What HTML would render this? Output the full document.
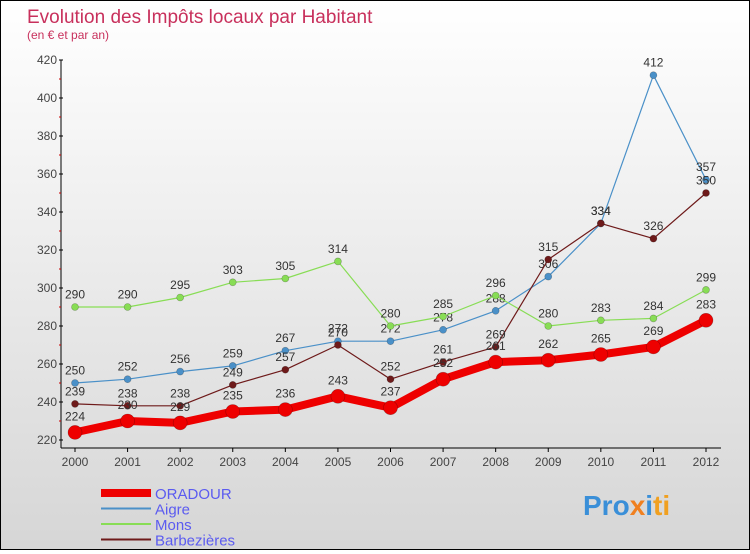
<!DOCTYPE html>
<html><head><meta charset="utf-8"><style>
html,body{margin:0;padding:0}
body{width:750px;height:550px;overflow:hidden;font-family:"Liberation Sans",sans-serif}
#wrap{position:relative;width:748px;height:548px;border:1px solid #000;background:linear-gradient(#ffffff,#d6d6d6)}
</style></head><body>
<div id="wrap">
<svg id="chart" width="748" height="548" xmlns="http://www.w3.org/2000/svg">
<text x="26" y="22" font-size="19" fill="#c8305c">Evolution des Impôts locaux par Habitant</text>
<text x="26" y="38" font-size="12" fill="#c8305c">(en € et par an)</text>
<g id="axes"></g><g id="series"></g><g id="legend"></g>
<text x="582" y="514" font-size="28" font-weight="bold" fill="#3a8fd8">Pro<tspan fill="#f08020">x</tspan><tspan fill="#3a8fd8">i</tspan><tspan fill="#f0a020">ti</tspan></text>
</svg></div>
<script>
const years=[2000,2001,2002,2003,2004,2005,2006,2007,2008,2009,2010,2011,2012];
const oradour=[224,230,229,235,236,243,237,252,261,262,265,269,283];
const aigre=[250,252,256,259,267,272,272,278,288,306,334,412,357];
const mons=[290,290,295,303,305,314,280,285,296,280,283,284,299];
const barbezieres=[239,238,238,249,257,270,252,261,269,315,334,326,350];
const yTicks=[220,240,260,280,300,320,340,360,380,400,420];
const NS="http://www.w3.org/2000/svg";
const x=i=>74+i*(705-74)/12;
const y=v=>439-(v-220)*(439-59)/200;
function mk(tag,attrs,parent){const e=document.createElementNS(NS,tag);for(const k in attrs)e.setAttribute(k,attrs[k]);parent.appendChild(e);return e;}
const ax=document.getElementById('axes');
const yl=mk('line',{x1:60,y1:59,x2:60,y2:447,stroke:'#000'},ax);


const xl=mk('line',{x1:60,y1:447,x2:720,y2:447,stroke:'#000'},ax);


yTicks.forEach((t,i)=>{
  mk('line',{x1:58,y1:y(t),x2:62,y2:y(t),stroke:'#000'},ax);
  if(i<yTicks.length-1) mk('line',{x1:58,y1:y(t+10),x2:60,y2:y(t+10),stroke:'#c00'},ax);
  const tx=mk('text',{x:56,y:y(t)+4,'font-size':12,'text-anchor':'end',fill:'#444'},ax);
  tx.textContent=t;
  
  
});
years.forEach((yr,i)=>{
  mk('line',{x1:x(i),y1:447,x2:x(i),y2:451,stroke:'#000'},ax);
  const tx=mk('text',{x:x(i),y:465,'font-size':12,'text-anchor':'middle',fill:'#444'},ax);
  tx.textContent=yr;
  
  
});
const sg=document.getElementById('series');
const series=[
 {name:'aigre',data:aigre,color:'#4a90c8',w:1.2,r:3.5},
 {name:'mons',data:mons,color:'#88dd55',w:1.2,r:3.5},
 {name:'barbezieres',data:barbezieres,color:'#6e1a1a',w:1.2,r:3.5},
 {name:'oradour',data:oradour,color:'#ee0000',w:8,r:7}
];
series.forEach(s=>{
  const g=mk('g',{},sg);
  
  
  const pl=mk('polyline',{points:s.data.map((v,i)=>x(i)+','+y(v)).join(' '),fill:'none',stroke:s.color,'stroke-width':s.w,'stroke-linejoin':'round'},g);
  
  
  s.data.forEach((v,i)=>{
    const c=mk('circle',{cx:x(i),cy:y(v),r:s.r,fill:s.color,stroke:'rgba(0,0,0,0.3)','stroke-width':0.6},g);
    
    
    const t=mk('text',{x:x(i),y:y(v)-(s.r+5),'font-size':12,'text-anchor':'middle',fill:'#333'},g);
    t.textContent=v;
    
    
  });
});
const lg=document.getElementById('legend');
const leg=[['ORADOUR','#ee0000',8],['Aigre','#4a90c8',2],['Mons','#88dd55',2],['Barbezières','#6e1a1a',2]];
leg.forEach((l,i)=>{
  const yy=492+i*15.5;
  const ln=mk('line',{x1:100,y1:yy,x2:150,y2:yy,stroke:l[1],'stroke-width':l[2]},lg);
  
  
  const t=mk('text',{x:154,y:yy+6,'font-size':15,fill:'#5b5bf0'},lg);
  t.textContent=l[0];
  
  
});
</script>
</body></html>
